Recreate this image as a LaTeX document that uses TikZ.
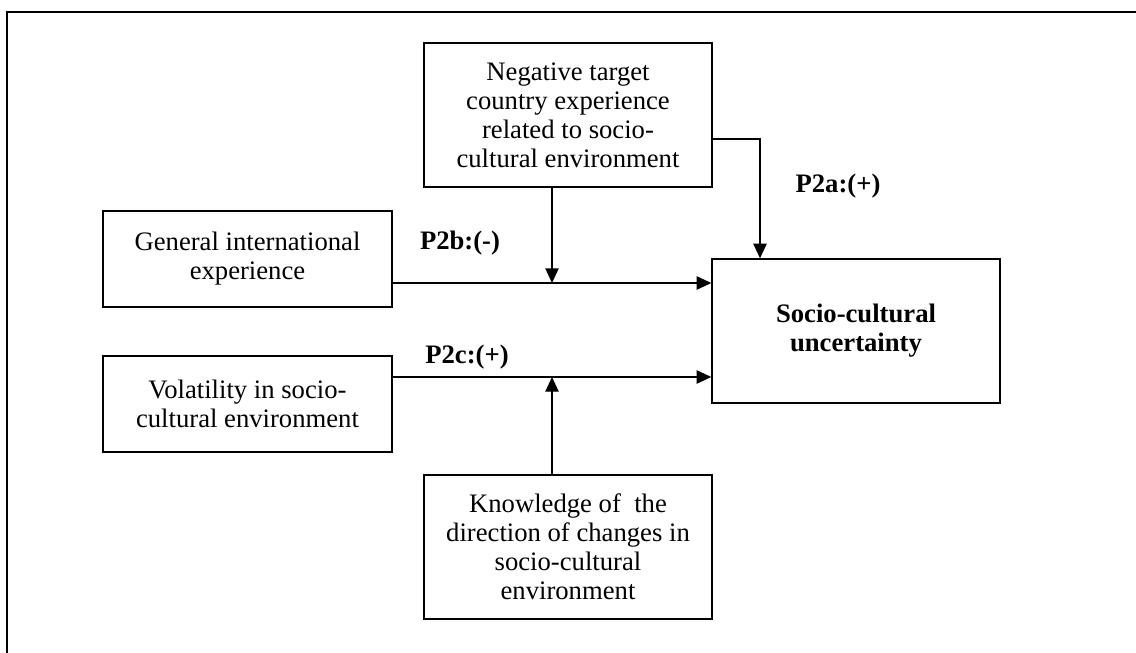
\documentclass[tikz,border=0pt]{standalone}
\usepackage{fontspec}
\setmainfont{Liberation Serif}
\usetikzlibrary{arrows.meta}
\begin{document}
\begin{tikzpicture}[x=0.75pt,y=-0.75pt,
  every node/.style={font=\fontsize{20}{21.75}\selectfont},
  box/.style={draw,line width=1pt,inner sep=0pt,align=center,minimum width=216pt},
  tall/.style={box,minimum height=108pt},
  short/.style={box,minimum height=72pt,minimum width=216.75pt},
  lab/.style={font=\fontsize{20}{21.75}\selectfont\bfseries,inner sep=0pt},
  link/.style={line width=1pt,-{Triangle[length=11pt,width=10pt]}}]
\useasboundingbox (0,0) rectangle (1136,653);
% outer frame, open at the right and bottom
\draw[line width=1.6pt] (7,653) -- (7,12) -- (1136,12);

\node[tall] (neg) at (568,115) {Negative target\\country experience\\related to socio-\\cultural environment};
\node[tall] (know) at (568,547) {Knowledge of\ \ the\\direction of changes in\\socio-cultural\\environment};
\node[short] (gen) at (247.5,259) {General international\\experience};
\node[short] (vol) at (247.5,404) {Volatility in socio-\\cultural environment};
\node[tall] (soc) at (856,331) {\bfseries Socio-cultural\\\bfseries uncertainty};

\coordinate (j1) at (552,283);
\coordinate (j2) at (552,377);
\coordinate (k) at (760,139);

\draw[link] (gen.east |- j1) -- (soc.west |- j1);
\draw[link] (neg.south -| j1) -- (j1);
\draw[link] (vol.east |- j2) -- (soc.west |- j2);
\draw[link] (know.north -| j2) -- (j2);
\draw[link] (neg.east |- k) -- (k) -- (soc.north -| k);

\node[lab] (p2b) at (460,243) {P2b:(-)};
\node[lab] (p2c) at (467,357) {P2c:(+)};
\node[lab] (p2a) at (838,186) {P2a:(+)};
\end{tikzpicture}
\end{document}
